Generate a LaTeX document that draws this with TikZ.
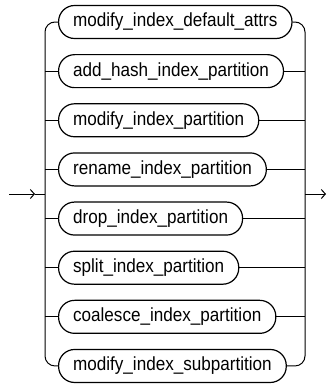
\documentclass[tikz,border=0pt]{standalone}
\usepackage{fontspec}
\setmainfont{Liberation Sans}[FakeStretch=0.9]
\usetikzlibrary{arrows.meta, calc}
\definecolor{railInk}{HTML}{000000}

\tikzset{
  choicebox/.style={draw=railInk, line width=1.2pt, rounded corners=16pt,
    minimum height=33pt, inner xsep=14.5pt, inner ysep=0pt, anchor=west,
    font=\fontsize{19}{19}\selectfont, text=railInk},
  rail/.style={draw=railInk, line width=1pt},
}

\begin{document}
\begin{tikzpicture}[x=1pt, y=-1pt]
  \useasboundingbox (0,0) rectangle (327,386);
  % ── choices, stacked top to bottom
  \foreach \lbl [count=\k] in {modify\_index\_default\_attrs, add\_hash\_index\_partition,
      modify\_index\_partition, rename\_index\_partition, drop\_index\_partition,
      split\_index\_partition, coalesce\_index\_partition, modify\_index\_subpartition} {
    \node[choicebox] (n\k) at (58, {22 + (\k-1)*49.14}) {\lbl};
  }
  % ── rails on both sides
  \coordinate (lbar) at (45, 194);
  \coordinate (rbar) at (305, 194);
  \coordinate (entry) at (9, 194);
  \coordinate (entrytip) at (35, 194);
  \coordinate (exit) at (326, 194);
  \draw[rail, rounded corners=10pt] (n1.west) -| (lbar) |- (n8.west);
  \draw[rail, rounded corners=10pt] (n1.east) -| (rbar) |- (n8.east);
  \foreach \k in {2,...,7} {
    \draw[rail] (lbar |- n\k.west) -- (n\k.west);
    \draw[rail] (n\k.east) -- (rbar |- n\k.east);
  }
  % ── in and out
  \draw[rail, -{Straight Barb[length=4pt, width=9pt]}] (entry) -- (entrytip);
  \draw[rail] (entrytip) -- (lbar);
  \draw[rail, -{Straight Barb[length=4pt, width=9pt]}] (rbar) -- (exit);
\end{tikzpicture}
\end{document}
